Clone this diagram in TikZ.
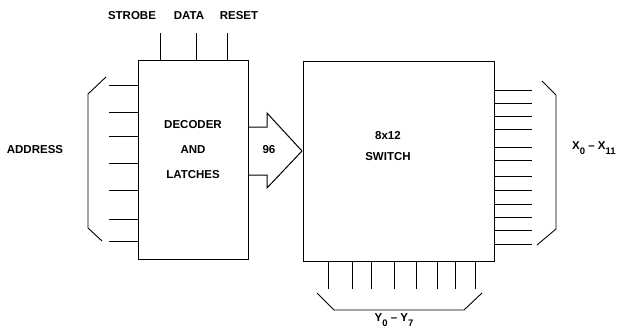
\documentclass[tikz,border=0pt]{standalone}
\usepackage{fontspec}
\setmainfont{Liberation Sans}
\newcommand{\lowidx}[1]{\raisebox{-0.8ex}{\fontsize{9.5}{10}\selectfont #1}}
\tikzset{
  blk/.style={draw, line width=1pt, inner sep=0pt},
  pin/.style={line width=0.9pt},
  brace/.style={line width=0.9pt},
  lbl/.style={font=\fontsize{11.5}{25}\selectfont\bfseries, inner sep=0pt, align=center}
}

\begin{document}
\begin{tikzpicture}[x=1pt, y=-1pt, >=latex]
\useasboundingbox (0,0) rectangle (625,332);

% Blocos
\node[blk, minimum width=110pt, minimum height=199pt] (dec) at (193,159.5) {};
\node[lbl] (dectxt) at (193,150) {DECODER\\AND\\LATCHES};
\node[blk, minimum width=191pt, minimum height=200pt] (sw) at (398.5,161) {};
\node[lbl] (swtxt) at (388,146.5) {8x12\\[-4pt]SWITCH};

% Controle
\node[lbl] (strobe) at (132,16) {STROBE};
\node[lbl] (data) at (189,16) {DATA};
\node[lbl] (reset) at (239,16) {RESET};
\foreach \x/\n in {160/s, 196/d, 227/r} {
  \coordinate (c\n) at (\x,33);
  \draw[pin] (c\n) -- (c\n |- dec.north);
}

% Enderecos
\foreach \y [count=\i] in {85,112,136,163,190,219,241} {
  \coordinate (a\i) at (109,\y);
  \draw[pin] (a\i) -- (a\i -| dec.west);
}
\coordinate (abt) at (106,77);
\coordinate (abb) at (102,241);
\draw[brace] (abt) -- (88,94) -- (88,228) -- (abb);
\node[lbl] (addr) at (35,150) {ADDRESS};

% Barramento de 96 linhas
\coordinate (tip) at (302,151);
\draw[line width=1pt] (dec.east |- 0,127) -- (267,127) -- (267,113) -- (tip)
  -- (267,188) -- (267,175) -- (dec.east |- 0,175);
\node[lbl] (bus) at (269,150) {96};

% Saidas X
\foreach \y [count=\i] in {90,103,116,129,147,160,176,190,204,217,230,244} {
  \coordinate (x\i) at (532,\y);
  \draw[pin] (x\i -| sw.east) -- (x\i);
}
\draw[brace] (542,81) -- (556,95) -- (556,229) -- (537,245);
\node[lbl, anchor=west] (xlbl) at (572,148) {X\lowidx{0} -- X\lowidx{11}};

% Saidas Y
\foreach \x [count=\i] in {328,352,371,394,416,437,455,475} {
  \coordinate (y\i) at (\x,289);
  \draw[pin] (y\i |- sw.south) -- (y\i);
}
\draw[brace] (317,293) -- (334,310) -- (464,310) -- (482,293);
\node[lbl] (ylbl) at (394,320) {Y\lowidx{0} -- Y\lowidx{7}};
\end{tikzpicture}
\end{document}
